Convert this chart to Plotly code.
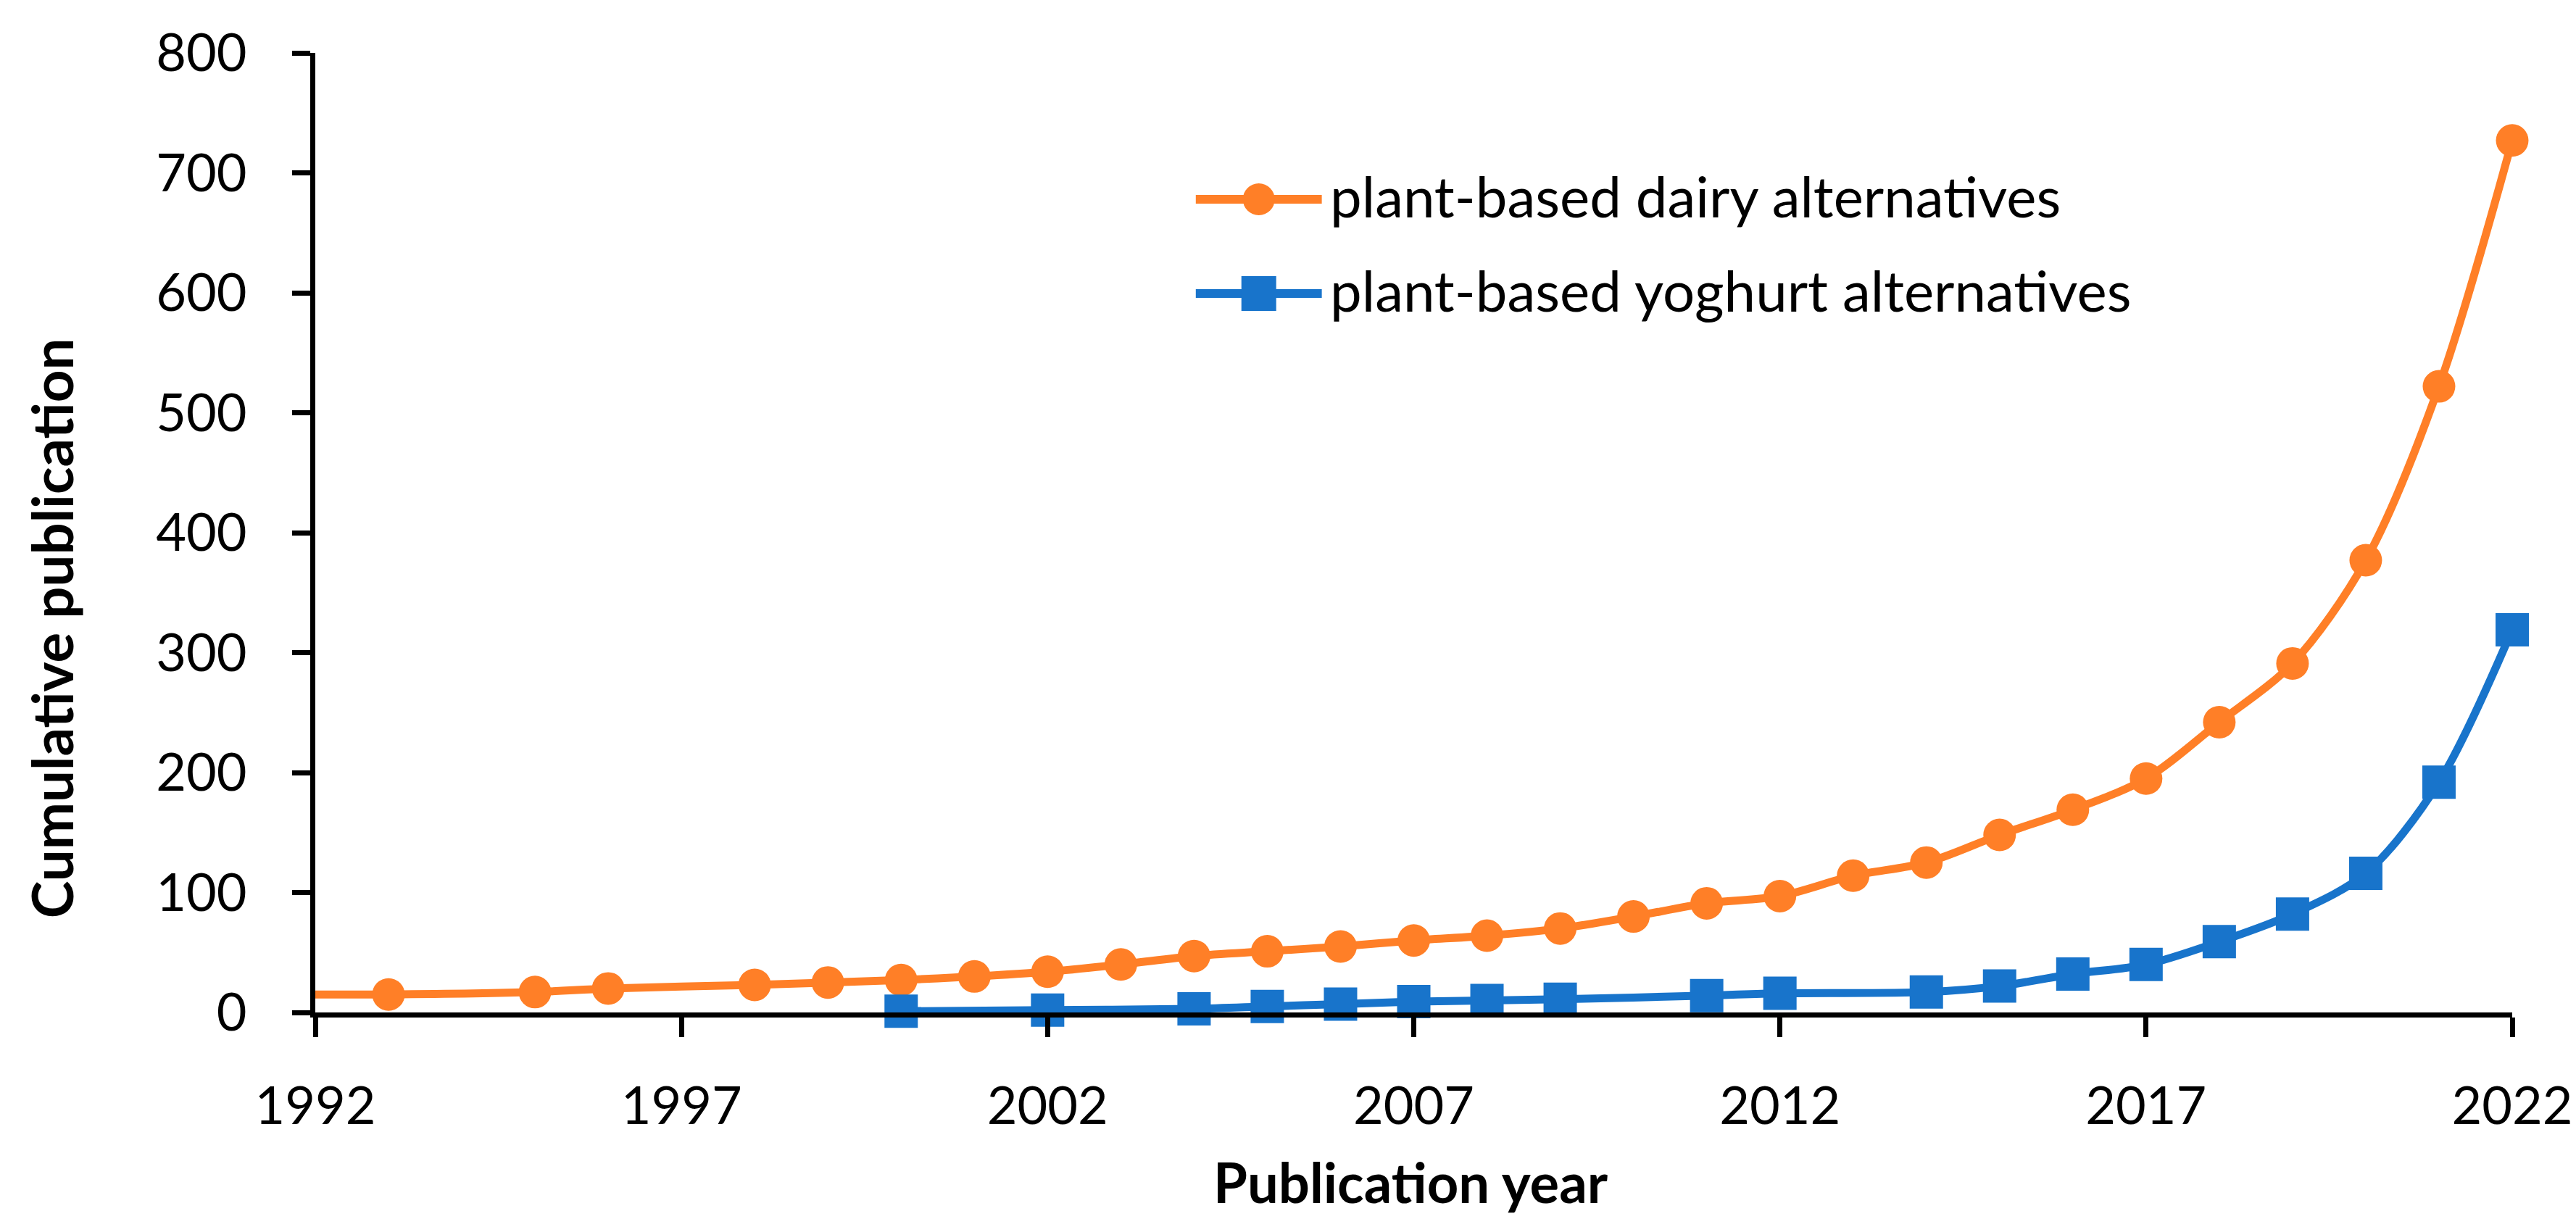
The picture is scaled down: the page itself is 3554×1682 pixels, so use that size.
import plotly.graph_objects as go

# ---- data ----
dairy_years = [1992, 1993, 1995, 1996, 1998, 1999, 2000, 2001, 2002, 2003, 2004, 2005,
               2006, 2007, 2008, 2009, 2010, 2011, 2012, 2013, 2014, 2015, 2016, 2017,
               2018, 2019, 2020, 2021, 2022]
dairy_values = [15, 15, 17, 20, 23, 25, 27, 30, 34, 40, 47, 51,
                55, 60, 64, 70, 80, 91, 97, 114, 125, 148, 169, 195,
                242, 291, 377, 522, 727]
dairy_marker_shown = [False] + [True] * (len(dairy_years) - 1)

yog_years = [2000, 2002, 2004, 2005, 2006, 2007, 2008, 2009, 2011, 2012, 2014, 2015,
             2016, 2017, 2018, 2019, 2020, 2021, 2022]
yog_values = [1, 2, 3, 5, 7, 9, 10, 11, 14, 16, 17, 22,
              32, 40, 59, 82, 116, 192, 319]

x_ticks = [1992, 1997, 2002, 2007, 2012, 2017, 2022]
y_ticks = [0, 100, 200, 300, 400, 500, 600, 700, 800]

series_names = ["plant-based dairy alternatives", "plant-based yoghurt alternatives"]
ORANGE = "#FF7F27"
BLUE = "#1874CB"

W, H = 3554, 1682
L, R, T, B = 427, 93, 65, 293

fig = go.Figure()
fig.add_trace(go.Scatter(
    x=dairy_years, y=dairy_values, mode="lines+markers", name=series_names[0],
    line=dict(color=ORANGE, width=11, shape="spline", smoothing=0.9),
    marker=dict(symbol="circle", color=ORANGE, opacity=1, line=dict(width=0),
                size=[45 if s else 0 for s in dairy_marker_shown]),
    opacity=1, cliponaxis=False, showlegend=False))
fig.add_trace(go.Scatter(
    x=yog_years, y=yog_values, mode="lines+markers", name=series_names[1],
    line=dict(color=BLUE, width=11, shape="spline", smoothing=0.9),
    marker=dict(symbol="square", color=BLUE, size=46, opacity=1, line=dict(width=0)),
    opacity=1, cliponaxis=False, showlegend=False))

tickfont = dict(family="Lato", size=72, color="black")
fig.update_xaxes(range=[1992, 2022], tickvals=x_ticks, showline=True, linecolor="black",
                 linewidth=7, ticks="outside", ticklen=27, tickwidth=7, tickcolor="black",
                 tickfont=tickfont, showgrid=False, zeroline=False, ticklabelstandoff=34)
fig.update_yaxes(range=[0, 800], tickvals=y_ticks, showline=True, linecolor="black",
                 linewidth=7, ticks="outside", ticklen=25, tickwidth=7, tickcolor="black",
                 tickfont=tickfont, showgrid=False, zeroline=False, ticklabelstandoff=48)

# custom legend (long line samples as in the reference)
pw = W - L - R
ph = H - T - B
def px2x(px):
    return (px - L) / pw
def px2y(py):
    return (H - B - py) / ph

leg = [(series_names[0], ORANGE, "circle", 267), (series_names[1], BLUE, "square", 397)]
shapes = []
annotations = []
for name, col, sym, py in leg:
    yy = px2y(py)
    shapes.append(dict(type="line", xref="paper", yref="paper", x0=px2x(1643), x1=px2x(1817),
                       y0=yy, y1=yy, line=dict(color=col, width=12)))
    xc = px2x(1730)
    if sym == "circle":
        shapes.append(dict(type="circle", xref="paper", yref="paper", xsizemode="pixel",
                           ysizemode="pixel", xanchor=xc, yanchor=yy, x0=-22, x1=22,
                           y0=-22, y1=22, fillcolor=col, line=dict(width=0)))
    else:
        shapes.append(dict(type="rect", xref="paper", yref="paper", xsizemode="pixel",
                           ysizemode="pixel", xanchor=xc, yanchor=yy, x0=-24, x1=24,
                           y0=-24, y1=24, fillcolor=col, line=dict(width=0)))
    annotations.append(dict(text=name, xref="paper", yref="paper", x=px2x(1826),
                            y=px2y(py - 5), xanchor="left", yanchor="middle",
                            showarrow=False,
                            font=dict(family="Lato", size=78, color="black")))

annotations.append(dict(text="<b>Publication year</b>", xref="paper", yref="paper",
                        x=px2x(1940), y=px2y(1622), xanchor="center", yanchor="middle",
                        showarrow=False, font=dict(family="Lato", size=76, color="black")))
annotations.append(dict(text="<b>Cumulative publication</b>", xref="paper", yref="paper",
                        x=px2x(63), y=px2y(859), xanchor="center", yanchor="middle",
                        textangle=-90, showarrow=False,
                        font=dict(family="Lato", size=78, color="black")))

fig.update_layout(width=W, height=H, margin=dict(l=L, r=R, t=T, b=B, pad=0),
                  paper_bgcolor="white", plot_bgcolor="white",
                  shapes=shapes, annotations=annotations, showlegend=False)

fig.write_html("out.html")
